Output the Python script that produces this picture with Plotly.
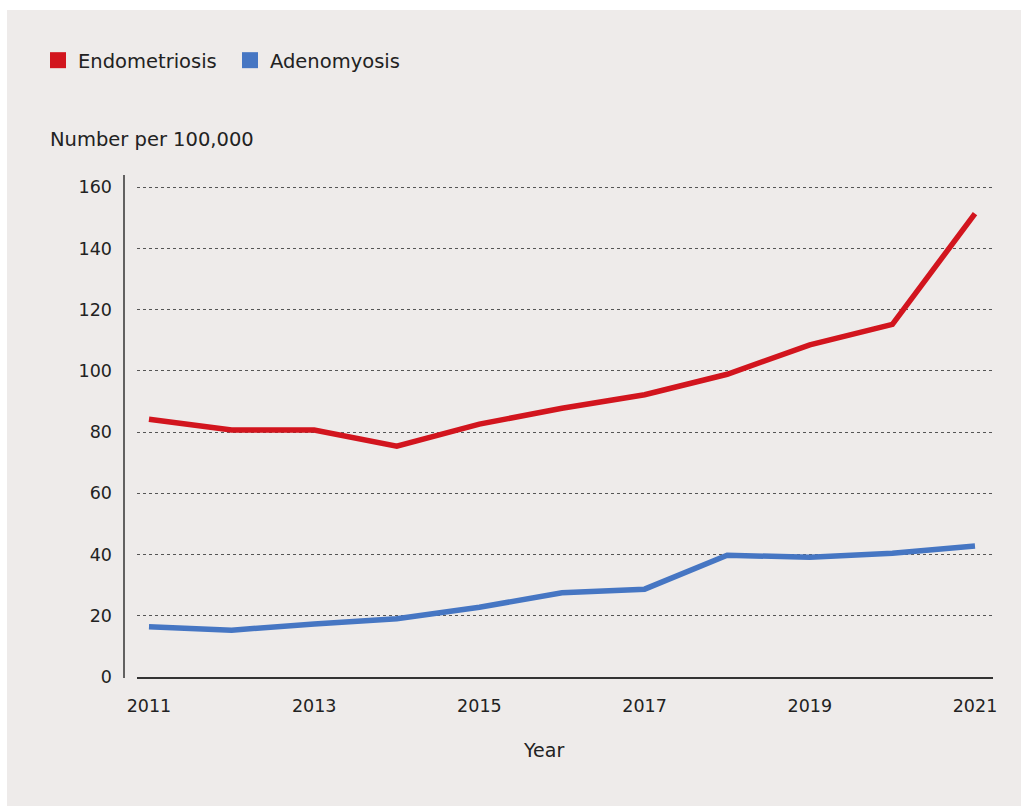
import plotly.graph_objects as go

years = [2011, 2012, 2013, 2014, 2015, 2016, 2017, 2018, 2019, 2020, 2021]
endometriosis = [84.2, 80.7, 80.7, 75.4, 82.6, 87.8, 92.2, 98.9, 108.5, 115.2, 151.4]
adenomyosis = [16.4, 15.3, 17.3, 19.0, 22.8, 27.5, 28.7, 39.8, 39.1, 40.4, 42.8]
xticks = [2011, 2013, 2015, 2017, 2019, 2021]
yticks = [0, 20, 40, 60, 80, 100, 120, 140, 160]

RED = "#D2151E"
BLUE = "#4676C3"
BG = "#EEEBEA"
TXT = "#222222"
FONT = "DejaVu Sans, sans-serif"

W, H = 1021, 806
L, R, T, B = 137, 28, 175, 129
pw, ph = W - L - R, H - T - B

def px2x(px):
    return (px - L) / pw

def px2y(py):
    return (H - B - py) / ph

fig = go.Figure()
fig.add_trace(go.Scatter(x=years, y=endometriosis, mode="lines", line=dict(color=RED, width=5.5),
                         showlegend=False, name="Endometriosis"))
fig.add_trace(go.Scatter(x=years, y=adenomyosis, mode="lines", line=dict(color=BLUE, width=5.5),
                         showlegend=False, name="Adenomyosis"))
for nm, col in [("Endometriosis", RED), ("Adenomyosis", BLUE)]:
    fig.add_trace(go.Scatter(x=[None], y=[None], mode="markers", name=nm,
                             marker=dict(symbol="square", size=16, color=col)))

fig.update_layout(
    width=W, height=H,
    margin=dict(l=L, r=R, t=T, b=B),
    paper_bgcolor=BG, plot_bgcolor=BG,
    font=dict(family=FONT, size=18, color=TXT),
    legend=dict(orientation="h", x=px2x(38), y=px2y(41), xanchor="left", yanchor="top",
                font=dict(size=19.5, color=TXT), itemwidth=30, bgcolor="rgba(0,0,0,0)",
                tracegroupgap=0, entrywidth=147, entrywidthmode="pixels"),
    xaxis=dict(range=[2010.855, 2021.218], tickvals=xticks, ticktext=[str(v) for v in xticks],
               showgrid=False, zeroline=False, showline=True, linecolor="#333333", linewidth=1.5,
               ticks="", ticklabelstandoff=12, tickfont=dict(size=17.5, color=TXT)),
    yaxis=dict(range=[0, 164], tickvals=yticks, showgrid=True, gridcolor="#555555", gridwidth=1,
               griddash="dot", zeroline=False, showline=False, ticks="", ticklabelstandoff=24,
               tickfont=dict(size=17.5, color=TXT)),
    shapes=[
        dict(type="line", xref="paper", yref="paper", x0=px2x(124), x1=px2x(124),
             y0=px2y(678), y1=px2y(175), line=dict(color="#333333", width=1.5)),
        dict(type="rect", xref="paper", yref="paper", x0=px2x(-5), x1=px2x(W + 5),
             y0=px2y(10), y1=px2y(-5), fillcolor="white", line=dict(width=0), layer="below"),
        dict(type="rect", xref="paper", yref="paper", x0=px2x(-5), x1=px2x(7),
             y0=px2y(H + 5), y1=px2y(-5), fillcolor="white", line=dict(width=0), layer="below"),
    ],
    annotations=[
        dict(text="Number per 100,000", xref="paper", yref="paper", x=px2x(48), y=px2y(139),
             xanchor="left", yanchor="middle", showarrow=False, font=dict(size=19.5, color=TXT)),
        dict(text="Year", xref="paper", yref="paper", x=px2x(543), y=px2y(750),
             xanchor="center", yanchor="middle", showarrow=False, font=dict(size=19, color=TXT)),
    ],
)

fig.write_html("out.html")
